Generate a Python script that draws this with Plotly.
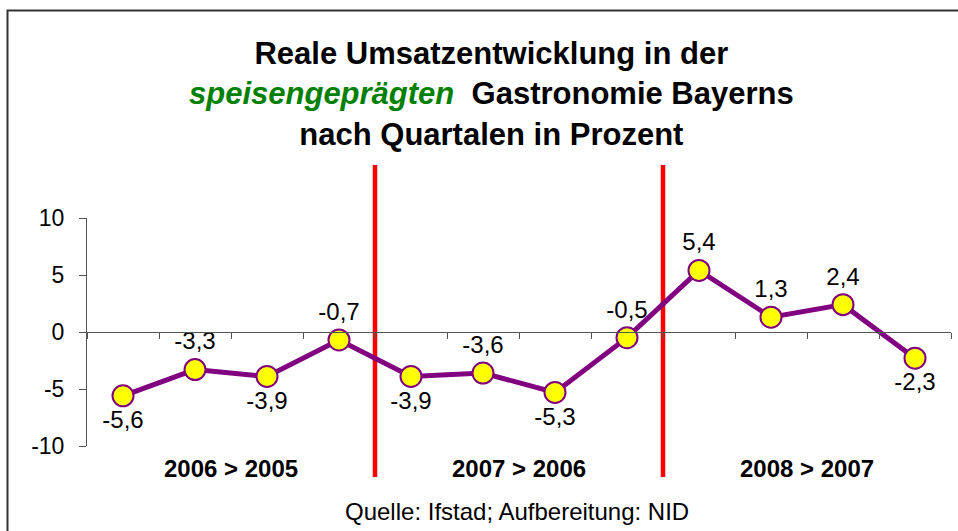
import plotly.graph_objects as go

quarters = list(range(1, 13))
values = [-5.6, -3.3, -3.9, -0.7, -3.9, -3.6, -5.3, -0.5, 5.4, 1.3, 2.4, -2.3]
labels = ["-5,6", "-3,3", "-3,9", "-0,7", "-3,9", "-3,6", "-5,3", "-0,5", "5,4", "1,3", "2,4", "-2,3"]
label_pos = ["bottom center", "top center", "bottom center", "top center",
             "bottom center", "top center", "bottom center", "top center",
             "top center", "top center", "top center", "bottom center"]
groups = ["2006 > 2005", "2007 > 2006", "2008 > 2007"]
group_centers = [2.5, 6.5, 10.5]
dividers = [4.5, 8.5]
y_ticks = [-10, -5, 0, 5, 10]
y_ticktext = ["-10", "-5", "0", "5", "10"]

W, H = 958, 531
L, R, T, B = 87, 7, 218, 85
pw, ph = W - L - R, H - T - B


def px_x(x):
    return (x - L) / pw


def px_y(y):
    return (H - B - y) / ph


FONT = "Arial, Liberation Sans, sans-serif"

fig = go.Figure()
fig.add_trace(go.Scatter(
    x=quarters, y=values, mode="lines+markers+text",
    text=labels, textposition=label_pos,
    textfont=dict(family=FONT, size=24, color="black"),
    line=dict(color="#800080", width=5),
    marker=dict(size=21, color="#FFFF00", line=dict(color="#800080", width=2)),
    cliponaxis=False, showlegend=False, hoverinfo="skip",
))

shapes = []
for d in dividers:
    shapes.append(dict(type="line", xref="x", yref="paper", x0=d, x1=d,
                       y0=px_y(477), y1=px_y(165),
                       line=dict(color="#FF0000", width=4.5), layer="below"))
# outer frame, only left and top edges are visible
shapes.append(dict(type="rect", xref="paper", yref="paper",
                   x0=px_x(7.5), x1=px_x(990), y0=px_y(560), y1=px_y(10.5),
                   line=dict(color="#333333", width=2)))

annotations = [
    dict(xref="paper", yref="paper", x=px_x(491), y=px_y(94), yanchor="middle",
         showarrow=False, align="center",
         text="<b>Reale Umsatzentwicklung in der<br>"
              "<i><span style='color:#008000'>speisengeprägten</span></i>  Gastronomie Bayerns<br>"
              "nach Quartalen in Prozent</b>",
         font=dict(family=FONT, size=31, color="black")),
    dict(xref="paper", yref="paper", x=px_x(517), y=px_y(511), yanchor="middle",
         showarrow=False, text="Quelle: Ifstad; Aufbereitung: NID",
         font=dict(family=FONT, size=24, color="black")),
]
for g, c in zip(groups, group_centers):
    annotations.append(dict(xref="x", yref="paper", x=c, y=px_y(468), yanchor="middle",
                            showarrow=False, text="<b>" + g + "</b>",
                            font=dict(family=FONT, size=24, color="black")))

fig.update_layout(
    width=W, height=H,
    margin=dict(l=L, r=R, t=T, b=B, pad=0),
    paper_bgcolor="white", plot_bgcolor="white",
    shapes=shapes, annotations=annotations,
    hovermode=False,
    xaxis=dict(range=[0.5, 12.5], anchor="free", position=0.5,
               tickvals=[q - 0.5 for q in quarters] + [12.5], ticks="outside",
               ticklen=6, tickcolor="#555555", showticklabels=False,
               showline=True, linecolor="#555555", linewidth=1,
               showgrid=False, zeroline=False),
    yaxis=dict(range=[-10, 10], tickvals=y_ticks, ticktext=y_ticktext,
               ticks="outside", ticklen=7, ticklabelstandoff=10,
               tickcolor="#555555", showline=True, linecolor="#555555",
               linewidth=1, showgrid=False, zeroline=False,
               tickfont=dict(family=FONT, size=23, color="black")),
)

fig.write_html("out.html", config={"displayModeBar": False},
               post_script="document.body.style.margin='0px';")
